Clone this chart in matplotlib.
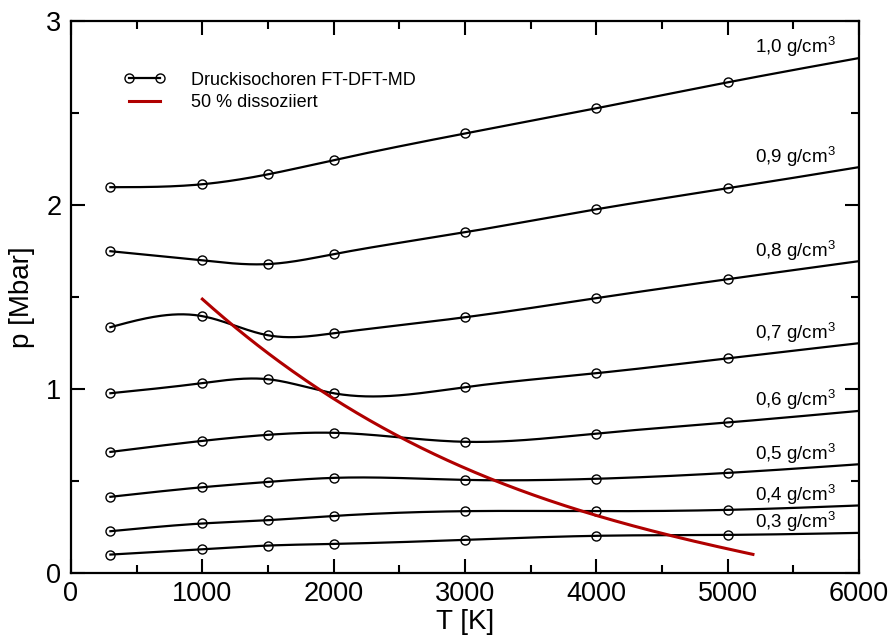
import numpy as np
import matplotlib
matplotlib.use("Agg")
import matplotlib.pyplot as plt

# -----------------------
# Data
# -----------------------
T_pts = [300, 1000, 1500, 2000, 3000, 4000, 5000, 6000]  # last point: line end, no marker

densities = ["1,0", "0,9", "0,8", "0,7", "0,6", "0,5", "0,4", "0,3"]
p_10 = [2.098, 2.114, 2.168, 2.245, 2.390, 2.527, 2.668, 2.800]
p_09 = [1.750, 1.700, 1.680, 1.734, 1.853, 1.978, 2.092, 2.207]
p_08 = [1.337, 1.397, 1.293, 1.304, 1.391, 1.495, 1.598, 1.696]
p_07 = [0.978, 1.033, 1.054, 0.978, 1.011, 1.087, 1.168, 1.250]
p_06 = [0.659, 0.719, 0.752, 0.763, 0.714, 0.759, 0.819, 0.882]
p_05 = [0.415, 0.467, 0.496, 0.518, 0.507, 0.513, 0.545, 0.592]
p_04 = [0.228, 0.270, 0.288, 0.311, 0.337, 0.337, 0.344, 0.368]
p_03 = [0.101, 0.130, 0.150, 0.159, 0.181, 0.203, 0.208, 0.219]
isochores = [p_10, p_09, p_08, p_07, p_06, p_05, p_04, p_03]

# 50 % dissociation line
T_diss = [1000, 1224, 1871, 2302, 2557, 2963, 3216, 3851, 4538, 5192]
p_diss = [1.498, 1.348, 0.985, 0.832, 0.723, 0.596, 0.505, 0.337, 0.207, 0.105]


def natural_spline(x, y, xs):
    """Natural cubic spline through (x, y), evaluated at xs."""
    x = np.asarray(x, float)
    y = np.asarray(y, float)
    n = len(x)
    h = np.diff(x)
    A = np.zeros((n, n))
    b = np.zeros(n)
    A[0, 0] = A[-1, -1] = 1.0
    for i in range(1, n - 1):
        A[i, i - 1] = h[i - 1]
        A[i, i] = 2 * (h[i - 1] + h[i])
        A[i, i + 1] = h[i]
        b[i] = 6 * ((y[i + 1] - y[i]) / h[i] - (y[i] - y[i - 1]) / h[i - 1])
    M = np.linalg.solve(A, b)
    idx = np.clip(np.searchsorted(x, xs) - 1, 0, n - 2)
    x0, x1 = x[idx], x[idx + 1]
    hi = x1 - x0
    t0, t1 = x1 - xs, xs - x0
    return (M[idx] * t0**3 / (6 * hi) + M[idx + 1] * t1**3 / (6 * hi)
            + (y[idx] / hi - M[idx] * hi / 6) * t0
            + (y[idx + 1] / hi - M[idx + 1] * hi / 6) * t1)


plt.rcParams['font.family'] = ['Liberation Sans', 'DejaVu Sans']
plt.rcParams['mathtext.default'] = 'regular'

fig = plt.figure(figsize=(8.93, 6.44), dpi=100)
ax = fig.add_axes([0.0795, 0.110, 0.8825, 0.857])

# -----------------------
# Isochores
# -----------------------
for name, p in zip(densities, isochores):
    xs = np.linspace(T_pts[0], T_pts[-1], 400)
    ax.plot(xs, natural_spline(T_pts, p, xs), color='black', lw=1.6, zorder=2)
    ax.plot(T_pts[:-1], p[:-1], ls='none', marker='o', ms=6.5, mfc='none',
            mec='black', mew=1.0, zorder=3)
    ax.text(5820, p[-1] + 0.025, name + r' g/cm$^3$', ha='right', va='baseline',
            fontsize=13.5)

# Dissociation line: smooth cubic fit through the read points
coef = np.polyfit(T_diss, p_diss, 3)
xs = np.linspace(T_diss[0], T_diss[-1], 300)
ax.plot(xs, np.polyval(coef, xs), color='#b00000', lw=2.2, zorder=4)

# Legend handles
h1, = ax.plot([], [], color='black', lw=1.6, marker='o', ms=6.5, mfc='none', mew=1.0)
h2, = ax.plot([], [], color='#b00000', lw=2.2)
ax.legend([h1, h2], ['Druckisochoren FT-DFT-MD', '50 % dissoziiert'],
          loc='upper left', bbox_to_anchor=(0.058, 0.922), frameon=False,
          fontsize=13, numpoints=2, handlelength=2.3, handletextpad=1.4,
          labelspacing=0.3, borderaxespad=0)

# -----------------------
# Axes styling
# -----------------------
ax.set_xlim(0, 6000)
ax.set_ylim(0, 3)
ax.set_xticks([0, 1000, 2000, 3000, 4000, 5000, 6000])
ax.set_xticks(np.arange(500, 6000, 1000), minor=True)
ax.set_yticks([0, 1, 2, 3])
ax.set_yticks([0.5, 1.5, 2.5], minor=True)
ax.tick_params(which='both', direction='in', top=True, right=True, width=1.5,
               labelsize=19.5)
ax.tick_params(axis='x', pad=6)
ax.tick_params(axis='y', pad=7)
ax.tick_params(which='major', length=10)
ax.tick_params(which='minor', length=6)
for s in ax.spines.values():
    s.set_linewidth(1.6)

ax.set_xlabel('T [K]', fontsize=20, labelpad=1)
ax.set_ylabel('p [Mbar]', fontsize=20, labelpad=8)

fig.savefig('out.png', dpi=100)
